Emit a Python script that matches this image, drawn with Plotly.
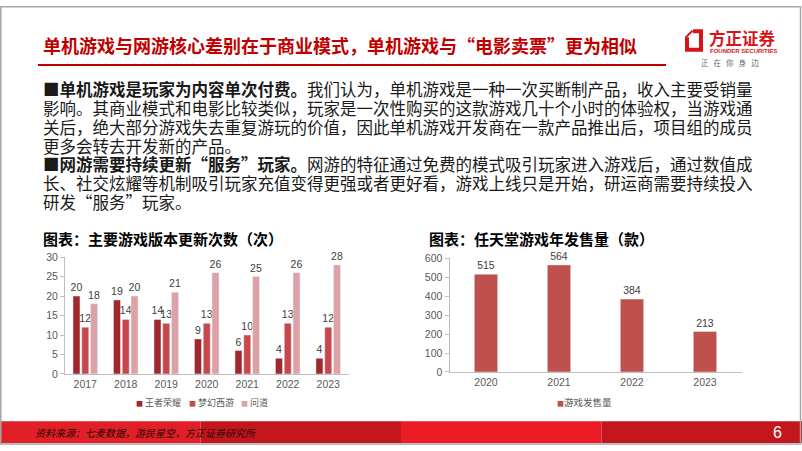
import plotly.graph_objects as go

W, H = 802, 451

# ---------------- data ----------------
years_a = ['2017', '2018', '2019', '2020', '2021', '2022', '2023']
wzry = [20, 19, 14, 9, 6, 4, 4]
mhxy = [12, 14, 13, 13, 10, 13, 12]
wendao = [18, 20, 21, 26, 25, 26, 28]
series_a_names = ['王者荣耀', '梦幻西游', '问道']
series_a_colors = ['#A0282D', '#C8474A', '#DDA2A5']

years_b = ['2020', '2021', '2022', '2023']
nintendo = [515, 564, 384, 213]
series_b_name = '游戏发售量'
series_b_color = '#C0504D'

title_text = '单机游戏与网游核心差别在于商业模式，单机游戏与“电影卖票”更为相似'
body_lines = [
    '<b>■单机游戏是玩家为内容单次付费。</b>我们认为，单机游戏是一种一次买断制产品，收入主要受销量',
    '影响。其商业模式和电影比较类似，玩家是一次性购买的这款游戏几十个小时的体验权，当游戏通',
    '关后，绝大部分游戏失去重复游玩的价值，因此单机游戏开发商在一款产品推出后，项目组的成员',
    '更多会转去开发新的产品。',
    '<b>■网游需要持续更新“服务”玩家。</b>网游的特征通过免费的模式吸引玩家进入游戏后，通过数值成',
    '长、社交炫耀等机制吸引玩家充值变得更强或者更好看，游戏上线只是开始，研运商需要持续投入',
    '研发“服务”玩家。',
]
chart_a_title = '图表：主要游戏版本更新次数（次）'
chart_b_title = '图表：任天堂游戏年发售量（款）'
source_text = '资料来源：七麦数据，游民星空，方正证券研究所'
page_no = '6'

CJK = 'Noto Sans CJK SC'
LAT = 'Liberation Sans, Arial, sans-serif'


def fx(p):
    return p / W


def fy(p):
    return 1 - p / H


fig = go.Figure()

series_a_values = [wzry, mhxy, wendao]
for name, vals, col in zip(series_a_names, series_a_values, series_a_colors):
    fig.add_trace(go.Bar(
        x=years_a, y=vals, name=name, marker_color=col,
        text=vals, textposition='outside', cliponaxis=False,
        constraintext='none',
        textfont=dict(family=LAT, size=10.5, color='#404040'),
        xaxis='x', yaxis='y', showlegend=False,
    ))

fig.add_trace(go.Bar(
    x=years_b, y=nintendo, name=series_b_name, marker_color=series_b_color,
    width=0.32, text=nintendo, textposition='outside', cliponaxis=False,
    constraintext='none',
    textfont=dict(family=LAT, size=10.5, color='#404040'),
    xaxis='x2', yaxis='y2', showlegend=False,
))

axis_common = dict(showline=True, linecolor='#BFBFBF', linewidth=1,
                   showgrid=False, zeroline=False,
                   tickfont=dict(family=LAT, size=10.5, color='#595959'))

fig.update_layout(
    width=W, height=H,
    margin=dict(l=0, r=0, t=0, b=0),
    paper_bgcolor='white', plot_bgcolor='white',
    barmode='group', bargap=0.35, bargroupgap=0.2,
    xaxis=dict(domain=[fx(65), fx(348.5)], anchor='y', type='category',
               ticks='', **axis_common),
    yaxis=dict(domain=[fy(378), fy(258)], anchor='x', range=[0, 30], dtick=5,
               ticks='outside', ticklen=4, tickcolor='#BFBFBF', **axis_common),
    xaxis2=dict(domain=[fx(449.5), fx(741.5)], anchor='y2', type='category',
                ticks='', **axis_common),
    yaxis2=dict(domain=[fy(376), fy(259)], anchor='x2', range=[0, 600], dtick=100,
                ticks='outside', ticklen=4, tickcolor='#BFBFBF', **axis_common),
)

ann = []
shapes = []

# title
ann.append(dict(x=fx(41), y=fy(40), xref='paper', yref='paper', xanchor='left',
                yanchor='middle', showarrow=False, text='<b>' + title_text + '</b>',
                font=dict(family=CJK, size=18, color='#C00000')))
shapes.append(dict(type='line', xref='paper', yref='paper', x0=fx(38), x1=fx(666),
                   y0=fy(60.5), y1=fy(60.5), line=dict(color='#C00000', width=2)))

# body text
line_y = [85.5, 104.8, 124.1, 143.4, 162.7, 182, 201.3]
for t, yy in zip(body_lines, line_y):
    ann.append(dict(x=fx(41), y=fy(yy), xref='paper', yref='paper', xanchor='left',
                    yanchor='middle', showarrow=False, text=t,
                    font=dict(family=CJK, size=16.5, color='#1A1A1A')))

# chart titles
ann.append(dict(x=fx(41), y=fy(239), xref='paper', yref='paper', xanchor='left',
                yanchor='middle', showarrow=False, text='<b>' + chart_a_title + '</b>',
                font=dict(family=CJK, size=15, color='#000000')))
ann.append(dict(x=fx(427), y=fy(239), xref='paper', yref='paper', xanchor='left',
                yanchor='middle', showarrow=False, text='<b>' + chart_b_title + '</b>',
                font=dict(family=CJK, size=15, color='#000000')))

# legends (as text)
leg_a_x = [134, 187, 239]
for name, col, xx in zip(series_a_names, series_a_colors, leg_a_x):
    ann.append(dict(x=fx(xx), y=fy(407), xref='paper', yref='paper', xanchor='left',
                    yanchor='middle', showarrow=False,
                    text=f'<span style="color:{col};font-size:7px">■</span> {name}',
                    font=dict(family=CJK, size=9, color='#595959')))
ann.append(dict(x=fx(555), y=fy(407), xref='paper', yref='paper', xanchor='left',
                yanchor='middle', showarrow=False,
                text=f'<span style="color:{series_b_color};font-size:7px">■</span>{series_b_name}',
                font=dict(family=CJK, size=9.5, color='#595959')))

# footer
foot_cols = ['#E11F27', '#C3161D', '#EC1C24', '#C3161D']
for i, c in enumerate(foot_cols):
    shapes.append(dict(type='rect', xref='paper', yref='paper', x0=fx(i * 200.5),
                       x1=fx((i + 1) * 200.5), y0=fy(449), y1=fy(426.5),
                       fillcolor=c, line=dict(width=0), layer='below'))
ann.append(dict(x=fx(33), y=fy(438), xref='paper', yref='paper', xanchor='left',
                yanchor='middle', showarrow=False, text='<i>' + source_text + '</i>',
                font=dict(family=CJK, size=10, color='#2E0505')))
ann.append(dict(x=fx(777), y=fy(438), xref='paper', yref='paper', xanchor='center',
                yanchor='middle', showarrow=False, text=page_no,
                font=dict(family=LAT, size=16, color='#FFFFFF')))

# frame
shapes.append(dict(type='rect', xref='paper', yref='paper', x0=fx(0.8), x1=fx(800.5),
                   y0=fy(450), y1=fy(0.8), line=dict(color='#A6A6A6', width=1.5),
                   fillcolor='rgba(0,0,0,0)'))

# logo
logo_red = '#D7141A'


def path(pts):
    return 'M ' + ' L '.join(f'{fx(a):.5f},{fy(b):.5f}' for a, b in pts)


shapes.append(dict(type='path', xref='paper', yref='paper',
                   path=path([(687, 32), (687, 45), (701, 45), (701, 26), (693, 26)]),
                   line=dict(color=logo_red, width=4)))
shapes.append(dict(type='path', xref='paper', yref='paper',
                   path=path([(685.5, 32.5), (692.5, 25.5)]),
                   line=dict(color=logo_red, width=2)))
ann.append(dict(x=fx(707), y=fy(32.5), xref='paper', yref='paper', xanchor='left',
                yanchor='middle', showarrow=False, text='<b>方正证券</b>',
                font=dict(family=CJK, size=16.5, color=logo_red)))
ann.append(dict(x=fx(743), y=fy(46), xref='paper', yref='paper', xanchor='center',
                yanchor='middle', showarrow=False, text='<b>FOUNDER SECURITIES</b>',
                font=dict(family=LAT, size=6, color=logo_red)))
ann.append(dict(x=fx(730), y=fy(58.5), xref='paper', yref='paper', xanchor='center',
                yanchor='middle', showarrow=False, text='正   在   你   身   边',
                font=dict(family=CJK, size=7.5, color='#666666')))

fig.update_layout(annotations=ann, shapes=shapes)

fig.write_html('out.html', config={'displayModeBar': False},
               post_script="document.body.style.margin='0';document.body.style.overflow='hidden';")
